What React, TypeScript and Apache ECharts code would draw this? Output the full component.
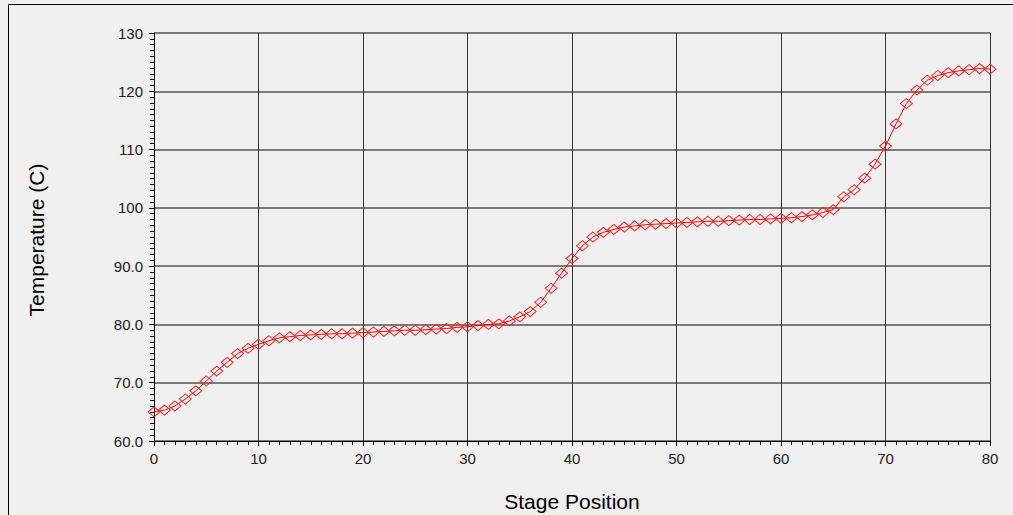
import React, { useEffect, useRef } from "react";
import * as echarts from "echarts";

const stages: number[] = Array.from({ length: 81 }, (_, i) => i);
const temperatures: number[] = [
  65.0, 65.3, 66.0, 67.2, 68.6, 70.3, 72.0, 73.5, 75.0, 75.9,
  76.6, 77.2, 77.7, 77.9, 78.1, 78.2, 78.3, 78.4, 78.4, 78.5,
  78.6, 78.7, 78.8, 78.9, 79.0, 79.0, 79.1, 79.2, 79.3, 79.5,
  79.6, 79.8, 80.0, 80.1, 80.6, 81.3, 82.2, 83.8, 86.2, 88.8,
  91.3, 93.5, 95.0, 95.8, 96.3, 96.7, 96.9, 97.1, 97.2, 97.3,
  97.4, 97.5, 97.6, 97.7, 97.7, 97.8, 97.9, 98.0, 98.0, 98.1,
  98.2, 98.3, 98.5, 98.8, 99.2, 99.7, 101.9, 103.1, 105.1, 107.5,
  110.6, 114.4, 117.9, 120.2, 121.9, 122.7, 123.2, 123.5, 123.7, 123.9,
  123.8,
];
const xAxisTitle = "Stage Position";
const yAxisTitle = "Temperature (C)";

export default function App() {
  const ref = useRef<HTMLDivElement>(null);
  useEffect(() => {
    if (!ref.current) return;
    const chart = echarts.init(ref.current, null, { renderer: "svg" });
    const font = "Arial, 'Liberation Sans', sans-serif";
    chart.setOption({
      animation: false,
      backgroundColor: "#f0f0f0",
      grid: { left: 154, right: 23, top: 33, bottom: 74 },
      graphic: [
        {
          type: "rect",
          shape: { x: 8.5, y: 4.5, width: 1100, height: 600 },
          style: { fill: "none", stroke: "#000", lineWidth: 1 },
          silent: true,
        },
        {
          type: "text",
          x: 36,
          y: 240,
          rotation: Math.PI / 2,
          style: {
            text: yAxisTitle,
            font: `21px ${font}`,
            fill: "#000",
            align: "center",
            verticalAlign: "middle",
          },
        },
        {
          type: "text",
          x: 572,
          y: 501,
          style: {
            text: xAxisTitle,
            font: `21px ${font}`,
            fill: "#000",
            align: "center",
            verticalAlign: "middle",
          },
        },
      ],
      xAxis: {
        type: "value",
        min: 0,
        max: 80,
        interval: 10,
        axisLine: { show: true, onZero: false, lineStyle: { color: "#000", width: 1 } },
        axisTick: { show: true, length: 5, lineStyle: { color: "#000" } },
        minorTick: { show: true, splitNumber: 10, length: 4, lineStyle: { color: "#000" } },
        axisLabel: { color: "#222", fontFamily: font, fontSize: 15, margin: 10 },
        splitLine: { show: true, lineStyle: { color: "#333", width: 1 } },
      },
      yAxis: {
        type: "value",
        min: 60,
        max: 130,
        interval: 10,
        axisLine: { show: true, onZero: false, lineStyle: { color: "#000", width: 1 } },
        axisTick: { show: true, length: 5, lineStyle: { color: "#000" } },
        minorTick: { show: true, splitNumber: 10, length: 4, lineStyle: { color: "#000" } },
        axisLabel: {
          color: "#222",
          fontFamily: font,
          fontSize: 15,
          margin: 11,
          formatter: (v: number) => (v >= 100 ? String(v) : v.toFixed(1)),
        },
        splitLine: { show: true, lineStyle: { color: "#555", width: 1.5 } },
      },
      series: [
        {
          type: "line",
          data: stages.map((s, i) => [s, temperatures[i]]),
          symbol: "diamond",
          symbolSize: [12, 10],
          showAllSymbol: true,
          lineStyle: { color: "#ff0000", width: 1 },
          itemStyle: { color: "rgba(0,0,0,0)", borderColor: "#ff2020", borderWidth: 1 },
          clip: false,
        },
      ],
    });
    return () => chart.dispose();
  }, []);
  return (
    <div
      ref={ref}
      style={{ position: "absolute", left: 0, top: 0, width: 1013, height: 515 }}
    />
  );
}
